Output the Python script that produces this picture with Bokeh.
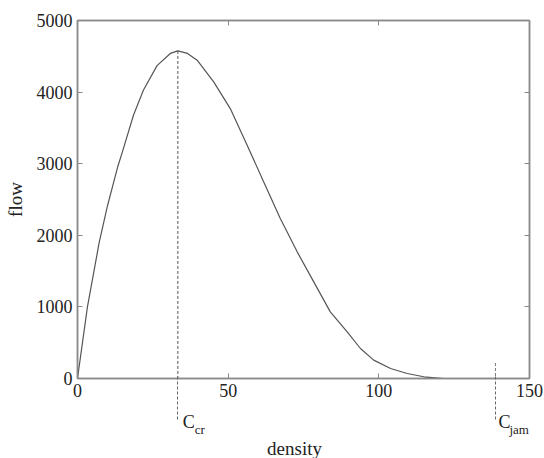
from bokeh.plotting import figure
from bokeh.models import LinearAxis, FixedTicker, Label, Range1d
from bokeh.embed import file_html
from bokeh.resources import INLINE

# ---- data ----
density = [0, 3.3, 7.2, 10.0, 13.3, 15.0, 18.6, 21.9, 26.4, 30.8, 33.3, 36.5, 39.7,
           45.2, 50.7, 56.3, 61.8, 67.3, 72.9, 78.4, 83.9, 89.5, 93.9, 98.3, 103.9,
           109.4, 114.9, 121.5]
flow = [0, 1000, 1900, 2420, 2950, 3180, 3680, 4030, 4370, 4540, 4575, 4540, 4446,
        4143, 3770, 3259, 2746, 2234, 1769, 1350, 931, 652, 419, 257, 140,
        70, 24, 0]
c_cr = 33.3
c_jam = 138.7
jam_line_top = 216          # flow level where the C_jam marker starts
x_ticks = [0, 50, 100, 150]
y_ticks = [0, 1000, 2000, 3000, 4000, 5000]
x_label = "density"
y_label = "flow"

# ---- style / layout constants ----
FONT = "Liberation Serif"
TXT = "#222222"
AX = "#8a8a8a"
CURVE = "#555555"
DASH = "3 2"
MAIN_Y = -612        # baseline of the "C" marks (data units, below the axis)
SUB_Y = -715         # baseline of the subscripts
XLAB_Y = -975        # baseline of the x axis title

p = figure(width=544, height=458, x_range=Range1d(0, 150), y_range=Range1d(0, 5000),
           output_backend="svg", toolbar_location=None,
           min_border_left=77, min_border_right=15, min_border_top=20, min_border_bottom=80)
p.grid.visible = False
p.outline_line_color = AX
p.outline_line_width = 1.5
p.background_fill_color = "white"
p.border_fill_color = "white"

def style_axis(ax, ticks, show_labels):
    ax.ticker = FixedTicker(ticks=ticks)
    ax.major_tick_in = 5
    ax.major_tick_out = 0
    ax.minor_tick_line_color = None
    ax.axis_line_color = AX
    ax.axis_line_width = 1.5
    ax.major_tick_line_color = AX
    ax.major_tick_line_width = 1
    if show_labels:
        ax.major_label_text_font = FONT
        ax.major_label_text_font_size = "18px"
        ax.major_label_text_color = TXT
    else:
        ax.major_label_text_font_size = "0px"
        ax.major_label_text_color = None
        ax.major_label_standoff = 0

xa = p.xaxis[0]
ya = p.yaxis[0]
style_axis(xa, x_ticks, True)
style_axis(ya, y_ticks, True)
xa.major_label_standoff = 5
ya.major_label_standoff = 5
ya.axis_label = y_label
ya.axis_label_text_font = FONT
ya.axis_label_text_font_size = "19px"
ya.axis_label_text_font_style = "normal"
ya.axis_label_text_color = TXT
ya.axis_label_standoff = 8

top = LinearAxis()
right = LinearAxis()
style_axis(top, x_ticks, False)
style_axis(right, y_ticks, False)
p.add_layout(top, "above")
p.add_layout(right, "right")

# curve
p.line(density, flow, line_color=CURVE, line_width=1.2)

# dashed markers inside the axes
peak = max(flow)
p.segment(x0=[c_cr, c_jam], y0=[peak, jam_line_top], x1=[c_cr, c_jam], y1=[0, 0],
          line_color=[CURVE, "#777777"], line_width=1, line_dash=DASH)

def lab(x, y, text, size, dx, place, align="left"):
    p.add_layout(Label(x=x, y=y, x_offset=dx, text=text, text_font=FONT,
                       text_font_size=size, text_color=TXT, text_align=align,
                       text_baseline="alphabetic"), place)

# below panel stacking: axis ticks, "C" (cr), dashed continuation axis, title, "jam"
lab(c_cr, MAIN_Y, "C", "18px", 5, "below")

dash_axis = LinearAxis(ticker=FixedTicker(ticks=[c_cr, c_jam]))
dash_axis.axis_line_color = None
dash_axis.minor_tick_line_color = None
dash_axis.major_tick_out = 0
dash_axis.major_tick_in = 45
dash_axis.major_tick_line_color = "#666666"
dash_axis.major_tick_line_width = 1
dash_axis.major_tick_line_dash = DASH
dash_axis.major_label_text_font_size = "0px"
dash_axis.major_label_text_color = None
dash_axis.major_label_standoff = 0
p.add_layout(dash_axis, "below")

lab(sum(x_ticks[::3]) / 2, XLAB_Y, x_label, "19px", -9, "below", "center")
lab(c_jam, SUB_Y, "jam", "13px", 14, "below")

# remaining marks placed in the other side panels
lab(c_jam, MAIN_Y, "C", "18px", 3, "above")
lab(c_cr, SUB_Y, "cr", "13px", 17, "right")

open("out.html", "w").write(file_html(p, INLINE))
